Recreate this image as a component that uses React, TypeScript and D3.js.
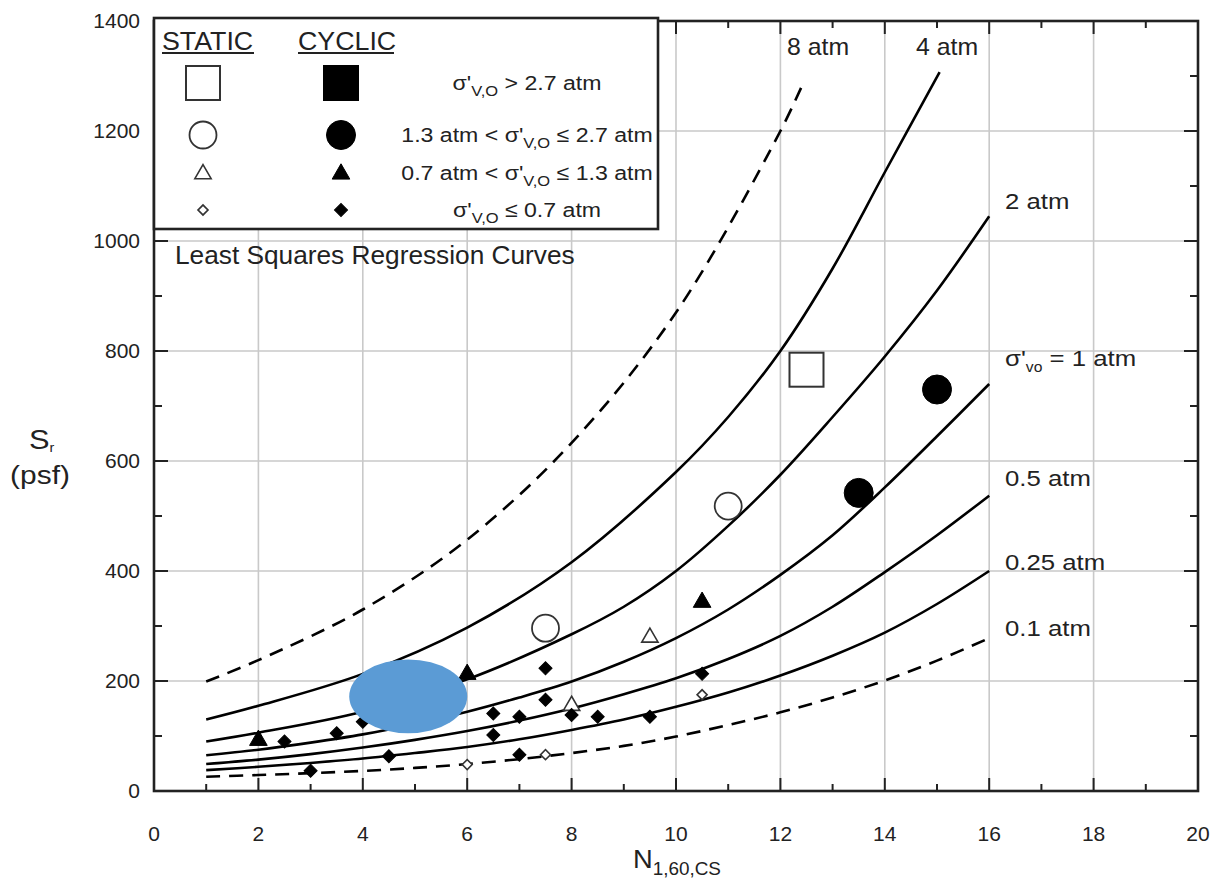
import React from "react";
import * as d3 from "d3";

// ---------- DATA ----------
const xTicks = [0, 2, 4, 6, 8, 10, 12, 14, 16, 18, 20];
const yTicks = [0, 200, 400, 600, 800, 1000, 1200, 1400];

// Regression curves [N1,60,cs, Sr psf]
const curve8atm = [[1, 199], [2, 238], [4, 330], [6, 457], [8, 633], [10, 870], [12, 1200], [12.45, 1290]];
const curve4atm = [[1, 130], [2, 155], [4, 213], [6, 297], [8, 416], [10, 580], [11, 680], [12, 800], [13, 950], [14, 1125], [15.05, 1307]];
const curve2atm = [[1, 90], [2, 106], [4, 144], [6, 203], [8, 285], [9, 335], [10, 400], [11, 482], [12, 575], [13, 680], [14, 790], [15, 910], [16, 1045]];
const curve1atm = [[1, 65], [2, 75], [3, 88], [4, 103], [5, 122], [6, 144], [7, 170], [8, 199], [9, 235], [10, 278], [11, 330], [12, 393], [13, 465], [14, 552], [15, 645], [16, 740]];
const curve05atm = [[1, 49], [2, 57], [3, 67], [4, 79], [5, 93], [6, 109], [7, 128], [8, 150], [9, 176], [10, 205], [11, 240], [12, 282], [13, 335], [14, 398], [15, 465], [16, 537]];
const curve025atm = [[1, 38], [2, 44], [3, 51], [4, 59], [5, 69], [6, 80], [7, 94], [8, 111], [9, 130], [10, 153], [11, 179], [12, 210], [13, 246], [14, 288], [15, 340], [16, 400]];
const curve01atm = [[1, 26], [2, 29], [3, 32.5], [4, 36.5], [5, 42], [6, 49], [7, 58], [8, 69], [9, 82], [10, 99], [11, 120], [12, 143], [13, 170], [14, 201], [15, 237], [16, 278]];

// Case history points [N, Sr]
const staticSquares = [[12.5, 766]];
const staticCircles = [[7.5, 296], [11, 518]];
const cyclicCircles = [[13.5, 542], [15, 730]];
const staticTriangles = [[8, 157], [9.5, 281]];
const cyclicTriangles = [[2, 94], [6, 214], [10.5, 345]];
const staticDiamonds = [[6, 48], [7.5, 66], [10.5, 175]];
const cyclicDiamonds = [
  [2.5, 90], [3, 37], [3.5, 105], [4, 126], [4.5, 63], [6.5, 141], [6.5, 102],
  [7, 135], [7, 66], [7.5, 223], [7.5, 166], [8, 138], [8.5, 135], [9.5, 135], [10.5, 213],
];

// Highlight ellipse (centre N, centre Sr, half-width in N, half-height in Sr)
const highlight = { n: 4.87, s: 172, rn: 1.13, rs: 67 };

// ---------- LAYOUT ----------
const W = 1221, H = 882;
const left = 154, right = 1198, top = 21, bottom = 791;
const FONT = "'Liberation Sans', Arial, Helvetica, sans-serif";
const TXT = "#222";

const x = d3.scaleLinear().domain([0, 20]).range([left, right]);
const y = d3.scaleLinear().domain([0, 1400]).range([bottom, top]);

const line = d3
  .line<number[]>()
  .x((d) => x(d[0]))
  .y((d) => y(d[1]))
  .curve(d3.curveCatmullRom.alpha(0.5));

const sym = (type: d3.SymbolType, size: number) => d3.symbol().type(type).size(size)()!;

const Marker = ({ kind, filled, cx, cy }: any) => {
  const stroke = filled ? "#000" : "#333";
  const fill = filled ? "#000" : "#fff";
  if (kind === "square") {
    const s = 34;
    return <rect x={cx - s / 2} y={cy - s / 2} width={s} height={s} fill={fill} stroke={stroke} strokeWidth={2} />;
  }
  if (kind === "circle") {
    return <circle cx={cx} cy={cy} r={filled ? 14.5 : 13.5} fill={fill} stroke={stroke} strokeWidth={filled ? 1 : 1.8} />;
  }
  if (kind === "triangle") {
    return (
      <path d={sym(d3.symbolTriangle, filled ? 135 : 115)} transform={`translate(${cx},${cy + 1})`} fill={fill} stroke={stroke} strokeWidth={filled ? 1 : 1.6} />
    );
  }
  return (
    <path d={sym(d3.symbolSquare, filled ? 85 : 50)} transform={`translate(${cx},${cy}) rotate(45)`} fill={fill} stroke={stroke} strokeWidth={filled ? 1 : 1.6} />
  );
};

// text stretched horizontally (the reference lettering is wide)
const SText = ({ x: tx, y: ty, sx = 1, size, anchor = "start", children }: any) => (
  <text transform={`translate(${tx},${ty}) scale(${sx},1)`} fontSize={size} textAnchor={anchor} fill={TXT}>
    {children}
  </text>
);

export default function App() {
  const xMinor = d3.range(0, 21, 1);
  const yMinor = d3.range(0, 1401, 100);

  const curves = [
    { d: curve8atm, dash: true },
    { d: curve4atm, dash: false },
    { d: curve2atm, dash: false },
    { d: curve1atm, dash: false },
    { d: curve05atm, dash: false },
    { d: curve025atm, dash: false },
    { d: curve01atm, dash: true },
  ];

  const pointSets = [
    { d: staticSquares, kind: "square", filled: false },
    { d: staticCircles, kind: "circle", filled: false },
    { d: cyclicCircles, kind: "circle", filled: true },
    { d: staticTriangles, kind: "triangle", filled: false },
    { d: cyclicTriangles, kind: "triangle", filled: true },
    { d: staticDiamonds, kind: "diamond", filled: false },
    { d: cyclicDiamonds, kind: "diamond", filled: true },
  ];

  const legendRows = [
    { kind: "square", y: 83 },
    { kind: "circle", y: 135 },
    { kind: "triangle", y: 173 },
    { kind: "diamond", y: 210 },
  ];

  const sub = (t: string, size = 15, dy = 6) => (
    <tspan fontSize={size} dy={dy}>
      {t}
    </tspan>
  );

  return (
    <svg width={W} height={H} style={{ position: "absolute", left: 0, top: 0, background: "#fff" }} fontFamily={FONT}>
      <rect x={0} y={0} width={W} height={H} fill="#fff" />
      {/* grid */}
      <g stroke="#c9c9c9" strokeWidth={1.6}>
        {xTicks.slice(1, -1).map((t) => (
          <line key={"gx" + t} x1={x(t)} x2={x(t)} y1={top} y2={bottom} />
        ))}
        {yTicks.slice(1, -1).map((t) => (
          <line key={"gy" + t} x1={left} x2={right} y1={y(t)} y2={y(t)} />
        ))}
      </g>
      {/* ticks */}
      <g stroke="#222" strokeWidth={2}>
        {xMinor.map((t) => {
          const len = t % 2 === 0 ? 13 : 7;
          return (
            <g key={"tx" + t}>
              <line x1={x(t)} x2={x(t)} y1={bottom} y2={bottom - len} />
              <line x1={x(t)} x2={x(t)} y1={top} y2={top + len} />
            </g>
          );
        })}
        {yMinor.map((t) => {
          const len = t % 200 === 0 ? 14 : 8;
          return (
            <g key={"ty" + t}>
              <line x1={left} x2={left + len} y1={y(t)} y2={y(t)} />
              <line x1={right} x2={right - len} y1={y(t)} y2={y(t)} />
            </g>
          );
        })}
      </g>
      {/* curves */}
      <g fill="none" stroke="#000" strokeWidth={2.6}>
        {curves.map((c, i) => (
          <path key={"c" + i} d={line(c.d as number[][])!} strokeDasharray={c.dash ? "14,9" : undefined} />
        ))}
      </g>
      {/* points */}
      {pointSets.map((ps, i) =>
        ps.d.map((p, j) => <Marker key={`p${i}-${j}`} kind={ps.kind} filled={ps.filled} cx={x(p[0])} cy={y(p[1])} />)
      )}
      {/* highlight ellipse */}
      <ellipse cx={x(highlight.n)} cy={y(highlight.s)} rx={x(highlight.rn) - x(0)} ry={y(0) - y(highlight.rs)} fill="#5b9bd5" />
      {/* frame */}
      <rect x={left} y={top} width={right - left} height={bottom - top} fill="none" stroke="#222" strokeWidth={2.6} />

      {/* legend */}
      <rect x={154} y={18} width={504} height={211} fill="#fff" stroke="#222" strokeWidth={2.6} />
      <SText x={162} y={50} size={26} sx={1.03}>STATIC</SText>
      <SText x={298} y={50} size={26} sx={1.03}>CYCLIC</SText>
      <g stroke={TXT} strokeWidth={1.8}>
        <line x1={162} x2={254} y1={53} y2={53} />
        <line x1={298} x2={394} y1={53} y2={53} />
      </g>
      {legendRows.map((r) => (
        <g key={"lg" + r.kind}>
          <Marker kind={r.kind} filled={false} cx={203} cy={r.y} />
          <Marker kind={r.kind} filled={true} cx={341} cy={r.y} />
        </g>
      ))}
      <SText x={527} y={90} size={21} sx={1.1} anchor="middle">
        σ'{sub("V,O")}
        <tspan dy={-6}> &gt; 2.7 atm</tspan>
      </SText>
      <SText x={527} y={142} size={21} sx={1.1} anchor="middle">
        1.3 atm &lt; σ'{sub("V,O")}
        <tspan dy={-6}> ≤ 2.7 atm</tspan>
      </SText>
      <SText x={527} y={180} size={21} sx={1.1} anchor="middle">
        0.7 atm &lt; σ'{sub("V,O")}
        <tspan dy={-6}> ≤ 1.3 atm</tspan>
      </SText>
      <SText x={527} y={217} size={21} sx={1.1} anchor="middle">
        σ'{sub("V,O")}
        <tspan dy={-6}> ≤ 0.7 atm</tspan>
      </SText>
      <SText x={175} y={264} size={25} sx={1.05}>
        Least Squares Regression Curves
      </SText>

      {/* curve labels */}
      <SText x={787} y={55} size={23} sx={1.08}>8 atm</SText>
      <SText x={916} y={55} size={23} sx={1.08}>4 atm</SText>
      <SText x={1005} y={209} size={23} sx={1.12}>2 atm</SText>
      <SText x={1005} y={366} size={23} sx={1.12}>
        σ'{sub("vo", 14)}
        <tspan dy={-6}> = 1 atm</tspan>
      </SText>
      <SText x={1005} y={486} size={23} sx={1.12}>0.5 atm</SText>
      <SText x={1005} y={570} size={23} sx={1.12}>0.25 atm</SText>
      <SText x={1005} y={636} size={23} sx={1.12}>0.1 atm</SText>

      {/* tick labels */}
      <g fill={TXT} fontSize={21} textAnchor="middle">
        {xTicks.map((t) => (
          <text key={"xl" + t} x={x(t)} y={841}>
            {t}
          </text>
        ))}
      </g>
      <g fill={TXT} fontSize={21} textAnchor="end">
        {yTicks.map((t) => (
          <text key={"yl" + t} x={140} y={y(t) + 7}>
            {t}
          </text>
        ))}
      </g>
      {/* axis titles */}
      <SText x={29} y={449} size={28} sx={1.1}>
        S<tspan fontSize={13} dy={3}>r</tspan>
      </SText>
      <SText x={40} y={484} size={26} sx={1.15} anchor="middle">
        (psf)
      </SText>
      <SText x={633} y={868} size={26} sx={1.05}>
        N<tspan fontSize={18} dy={7}>1,60,CS</tspan>
      </SText>
    </svg>
  );
}
